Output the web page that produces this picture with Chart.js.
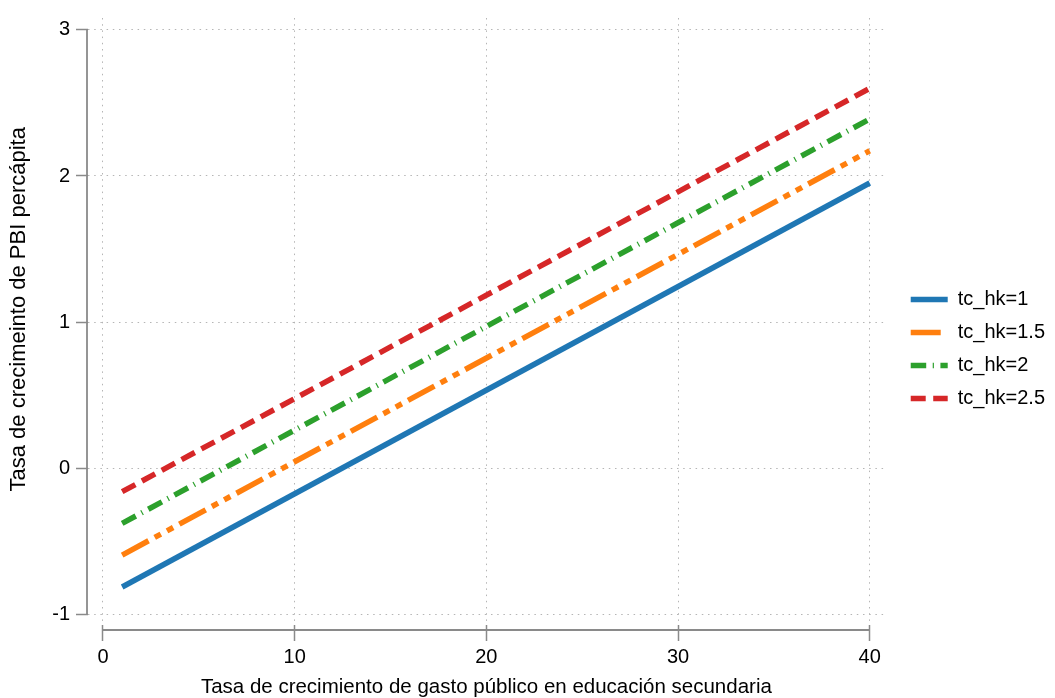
<!DOCTYPE html>
<html>
<head>
<meta charset="utf-8">
<script src="https://cdn.jsdelivr.net/npm/chart.js@4"></script>
<style>
  html, body { margin: 0; padding: 0; background: #fff; }
</style>
</head>
<body>
<canvas id="growthChart" width="1055" height="698"></canvas>
<script>
// Values
const gastoX = [1, 40];             // tasa de crecimiento de gasto publico
const hk1  = [-0.815, 1.952];        // tc_hk=1
const hk15 = [-0.596, 2.173];        // tc_hk=1.5
const hk2  = [-0.379, 2.390];        // tc_hk=2
const hk25 = [-0.162, 2.600];        // tc_hk=2.5
const seriesNames = ['tc_hk=1', 'tc_hk=1.5', 'tc_hk=2', 'tc_hk=2.5'];
const xTicks = [0, 10, 20, 30, 40];
const yTicks = [-1, 0, 1, 2, 3];

const axisGray = '#8a8a8a';
const fontFamily = '"Liberation Sans", Arial, sans-serif';

function toPoints(ys) {
    return gastoX.map((x, i) => ({ x: x, y: ys[i] }));
}

function makeSeries(label, ys, color, dash) {
    return {
        label: label,
        data: toPoints(ys),
        borderColor: color,
        backgroundColor: color,
        borderWidth: 5.5,
        borderDash: dash,
        borderCapStyle: 'butt',
        pointRadius: 0,
        tension: 0,
        yAxisID: 'y'
    };
}

// offset, trimmed axis lines (like a despined plot)
const trimmedAxes = {
    id: 'trimmedAxes',
    afterDraw(chart) {
        const { ctx, chartArea, scales } = chart;
        const xs = scales.x, ys = scales.y;
        ctx.save();
        ctx.strokeStyle = axisGray;
        ctx.lineWidth = 1.8;
        ctx.beginPath();
        const yLineX = chartArea.left - 1;
        ctx.moveTo(yLineX, ys.getPixelForValue(yTicks[0]));
        ctx.lineTo(yLineX, ys.getPixelForValue(yTicks[yTicks.length - 1]));
        const xLineY = chartArea.bottom + 5;
        ctx.moveTo(xs.getPixelForValue(xTicks[0]), xLineY);
        ctx.lineTo(xs.getPixelForValue(xTicks[xTicks.length - 1]), xLineY);
        ctx.stroke();
        ctx.restore();
    }
};

const gridStyle = {
    color: '#b5b5b5',
    lineWidth: 1,
    tickColor: axisGray,
    tickWidth: 1.5,
    tickBorderDash: []
};
// in v4 the dash of the grid lines lives under border
const dottedBorder = { display: false, dash: [1.5, 4.7] };

const ctx = document.getElementById('growthChart').getContext('2d');
const growthChart = new Chart(ctx, {
    type: 'line',
    data: {
        datasets: [
            makeSeries(seriesNames[0], hk1, '#1f77b4', []),
            makeSeries(seriesNames[1], hk15, '#ff7f0e', [30, 7, 7, 7, 7, 7]),
            makeSeries(seriesNames[2], hk2, '#2ca02c', [15.5, 6.5, 1.2, 6.5]),
            makeSeries(seriesNames[3], hk25, '#d62728', [15, 7.5])
        ]
    },
    options: {
        responsive: false,
        animation: false,
        layout: { padding: 0 },
        scales: {
            x: {
                type: 'linear',
                min: -0.782,
                max: 40.782,
                afterBuildTicks: s => { s.ticks = xTicks.map(v => ({ value: v })); },
                afterFit: s => { s.height = 73; },
                border: dottedBorder,
                grid: Object.assign({}, gridStyle, { tickLength: 16 }),
                ticks: { color: '#000', padding: 4, font: { family: fontFamily, size: 20 } },
                title: {
                    display: true,
                    text: 'Tasa de crecimiento de gasto público en educación secundaria',
                    color: '#000',
                    padding: { top: 0, bottom: 0 },
                    font: { family: fontFamily, size: 20.5, lineHeight: 1 }
                }
            },
            y: {
                type: 'linear',
                min: -1.075,
                max: 3.082,
                afterBuildTicks: s => { s.ticks = yTicks.map(v => ({ value: v })); },
                afterFit: s => { s.width = 88; },
                border: dottedBorder,
                grid: Object.assign({}, gridStyle, { tickLength: 12 }),
                ticks: { color: '#000', padding: 6, font: { family: fontFamily, size: 20 } },
                title: {
                    display: true,
                    text: '    Tasa de crecimeinto de PBI percápita',
                    color: '#000',
                    padding: { top: 8, bottom: 0 },
                    font: { family: fontFamily, size: 22, lineHeight: 1 }
                }
            },
            // empty strip between the plot and the legend
            pad: {
                type: 'linear',
                position: 'right',
                display: true,
                afterFit: s => { s.width = 13; },
                border: { display: false },
                grid: { display: false },
                ticks: { display: false }
            }
        },
        plugins: {
            tooltip: { enabled: false },
            legend: {
                position: 'right',
                align: 'center',
                labels: {
                    usePointStyle: true,
                    pointStyleWidth: 37,
                    padding: 13,
                    color: '#000',
                    font: { family: fontFamily, size: 20 },
                    generateLabels: chart => chart.data.datasets.map((ds, i) => ({
                        text: ds.label,
                        fillStyle: ds.borderColor,
                        strokeStyle: ds.borderColor,
                        lineWidth: ds.borderWidth,
                        lineDash: ds.borderDash,
                        lineCap: 'butt',
                        pointStyle: 'line',
                        rotation: 180,
                        hidden: false,
                        fontColor: '#000',
                        datasetIndex: i
                    }))
                }
            }
        }
    },
    plugins: [trimmedAxes]
});
</script>
</body>
</html>
